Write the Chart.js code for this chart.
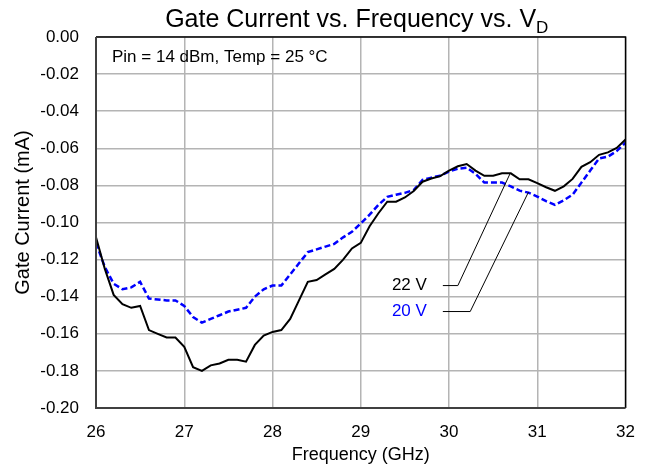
<!DOCTYPE html>
<html><head><meta charset="utf-8">
<script src="https://cdn.jsdelivr.net/npm/chart.js@4.4.1/dist/chart.umd.min.js"></script>
<style>html,body{margin:0;padding:0;background:#fff;overflow:hidden}#wrap{width:649px;height:473px}</style>
</head><body><div id="wrap"><canvas id="c" width="649" height="473"></canvas></div>
<script>
const frequencyGHz = [26.0,26.1,26.2,26.3,26.4,26.5,26.6,26.7,26.8,26.9,
  27.0,27.1,27.2,27.3,27.4,27.5,27.6,27.7,27.8,27.9,
  28.0,28.1,28.2,28.3,28.4,28.5,28.6,28.7,28.8,28.9,
  29.0,29.1,29.2,29.3,29.4,29.5,29.6,29.7,29.8,29.9,
  30.0,30.1,30.2,30.3,30.4,30.5,30.6,30.7,30.8,30.9,
  31.0,31.1,31.2,31.3,31.4,31.5,31.6,31.7,31.8,31.9,32.0];
const current22V = [-0.108,-0.125,-0.139,-0.144,-0.146,-0.145,-0.158,-0.160,-0.162,-0.162,
  -0.167,-0.178,-0.180,-0.177,-0.176,-0.174,-0.174,-0.175,-0.166,-0.161,
  -0.159,-0.158,-0.152,-0.142,-0.132,-0.131,-0.128,-0.125,-0.120,-0.114,
  -0.111,-0.102,-0.095,-0.0888,-0.0888,-0.0865,-0.083,-0.078,-0.0763,-0.075,
  -0.072,-0.0697,-0.0685,-0.072,-0.0748,-0.0748,-0.0735,-0.0735,-0.0767,-0.0767,
  -0.0788,-0.081,-0.0829,-0.0805,-0.0765,-0.070,-0.0675,-0.0635,-0.0622,-0.0598,-0.0553];
const current20V = [-0.111,-0.124,-0.133,-0.136,-0.135,-0.132,-0.141,-0.1415,-0.142,-0.142,
  -0.145,-0.151,-0.154,-0.152,-0.150,-0.148,-0.147,-0.146,-0.140,-0.136,
  -0.134,-0.134,-0.128,-0.122,-0.116,-0.1145,-0.113,-0.1115,-0.108,-0.105,
  -0.1005,-0.0958,-0.0905,-0.0862,-0.085,-0.084,-0.0825,-0.077,-0.0758,-0.0748,
  -0.0725,-0.071,-0.0705,-0.0737,-0.0785,-0.0785,-0.0785,-0.0805,-0.0828,-0.0839,
  -0.086,-0.0885,-0.0905,-0.088,-0.085,-0.0785,-0.072,-0.0655,-0.0645,-0.0615,-0.057];
const xTickValues = [26,27,28,29,30,31,32];
const yTickValues = [0,-0.02,-0.04,-0.06,-0.08,-0.10,-0.12,-0.14,-0.16,-0.18,-0.20];
const seriesLabels = ['22 V','20 V'];
const seriesColors = ['#000000','#0000ff'];
const chartTitle = 'Gate Current vs. Frequency vs. V';
const chartTitleSub = 'D';
const noteText = 'Pin = 14 dBm, Temp = 25 °C';
const xAxisTitle = 'Frequency (GHz)';
const yAxisTitle = 'Gate Current (mA)';

// callout geometry in data units: label anchor, elbow, point on curve
const callouts = [
  {text: seriesLabels[0], color: seriesColors[0], label: [29.93, -0.134], elbow: [30.10, -0.134], tip: [30.69, -0.0738]},
  {text: seriesLabels[1], color: seriesColors[1], label: [29.93, -0.148], elbow: [30.24, -0.148], tip: [30.90, -0.0836]}
];

const FONT = 'Arial, "Liberation Sans", sans-serif';

const decor = {
  id: 'decor',
  afterDraw(chart) {
    const {ctx, chartArea: a, scales: {x, y}} = chart;
    ctx.save();
    // frame
    ctx.lineCap = 'butt';
    ctx.strokeStyle = '#000'; ctx.lineWidth = 1.5;
    ctx.beginPath(); ctx.moveTo(a.left, a.top); ctx.lineTo(a.right, a.top); ctx.lineTo(a.right, a.bottom); ctx.stroke();
    ctx.strokeStyle = '#404040'; ctx.lineWidth = 2;
    ctx.beginPath(); ctx.moveTo(a.left, a.top); ctx.lineTo(a.left, a.bottom); ctx.lineTo(a.right, a.bottom); ctx.stroke();
    // title with subscript
    ctx.fillStyle = '#000';
    ctx.textBaseline = 'alphabetic';
    ctx.font = '25px ' + FONT;
    const w1 = ctx.measureText(chartTitle).width;
    ctx.font = '17px ' + FONT;
    const w2 = ctx.measureText(chartTitleSub).width;
    const cx = (a.left + a.right) / 2 - 4;
    const sx = cx - (w1 + w2) / 2;
    ctx.font = '25px ' + FONT;
    ctx.textAlign = 'left';
    ctx.fillText(chartTitle, sx, 27);
    ctx.font = '17px ' + FONT;
    ctx.fillText(chartTitleSub, sx + w1, 33);
    // y axis title
    ctx.save();
    ctx.translate(23, (a.top + a.bottom) / 2 - 10);
    ctx.rotate(-Math.PI / 2);
    ctx.font = '20px ' + FONT;
    ctx.textAlign = 'center';
    ctx.textBaseline = 'middle';
    ctx.fillText(yAxisTitle, 0, 0);
    ctx.restore();
    // note
    ctx.font = '17px ' + FONT;
    ctx.textAlign = 'left';
    ctx.textBaseline = 'middle';
    ctx.fillText(noteText, a.left + 16, 57);
    // callouts
    ctx.font = '17px ' + FONT;
    ctx.textAlign = 'right';
    callouts.forEach(c => {
      const lx = x.getPixelForValue(c.label[0]), ly = y.getPixelForValue(c.label[1]);
      const ex = x.getPixelForValue(c.elbow[0]), ey = y.getPixelForValue(c.elbow[1]);
      const tx = x.getPixelForValue(c.tip[0]), ty = y.getPixelForValue(c.tip[1]);
      ctx.strokeStyle = '#000'; ctx.lineWidth = 1;
      ctx.beginPath(); ctx.moveTo(lx, ly); ctx.lineTo(ex, ey); ctx.lineTo(tx, ty); ctx.stroke();
      ctx.fillStyle = c.color;
      ctx.fillText(c.text, lx - 16, ly);
    });
    ctx.restore();
  }
};

new Chart(document.getElementById('c'), {
  type: 'line',
  data: {
    datasets: [
      {label: seriesLabels[0], data: frequencyGHz.map((f, i) => ({x: f, y: current22V[i]})),
       borderColor: seriesColors[0], borderWidth: 2, pointRadius: 0, tension: 0, fill: false},
      {label: seriesLabels[1], data: frequencyGHz.map((f, i) => ({x: f, y: current20V[i]})),
       borderColor: seriesColors[1], borderWidth: 2.5, borderDash: [6, 3], pointRadius: 0, tension: 0, fill: false}
    ]
  },
  options: {
    responsive: false, animation: false, devicePixelRatio: 1,
    layout: {padding: {top: 37, right: 23, bottom: 0, left: 0}},
    plugins: {legend: {display: false}, title: {display: false}, tooltip: {enabled: false}},
    scales: {
      x: {
        type: 'linear', min: 26, max: 32,
        afterBuildTicks: s => { s.ticks = xTickValues.map(v => ({value: v})); },
        afterFit: s => { s.height = 65; },
        grid: {color: '#b4b4b4', lineWidth: 1.5, drawTicks: false},
        border: {display: false},
        ticks: {color: '#000', font: {family: FONT, size: 17}, padding: 14, maxRotation: 0,
                callback: v => String(v)},
        title: {display: true, text: xAxisTitle, color: '#000', font: {family: FONT, size: 18}, padding: {top: 0, bottom: 7}}
      },
      y: {
        type: 'linear', min: -0.2, max: 0,
        afterBuildTicks: s => { s.ticks = yTickValues.map(v => ({value: v})); },
        afterFit: s => { s.width = 96; },
        grid: {color: '#b4b4b4', lineWidth: 1.5, drawTicks: false},
        border: {display: false},
        ticks: {color: '#000', font: {family: FONT, size: 17}, padding: 17,
                callback: v => (Math.abs(v) < 1e-9 ? '0.00' : v.toFixed(2))},
        title: {display: false}
      }
    }
  },
  plugins: [decor]
});
</script></body></html>
